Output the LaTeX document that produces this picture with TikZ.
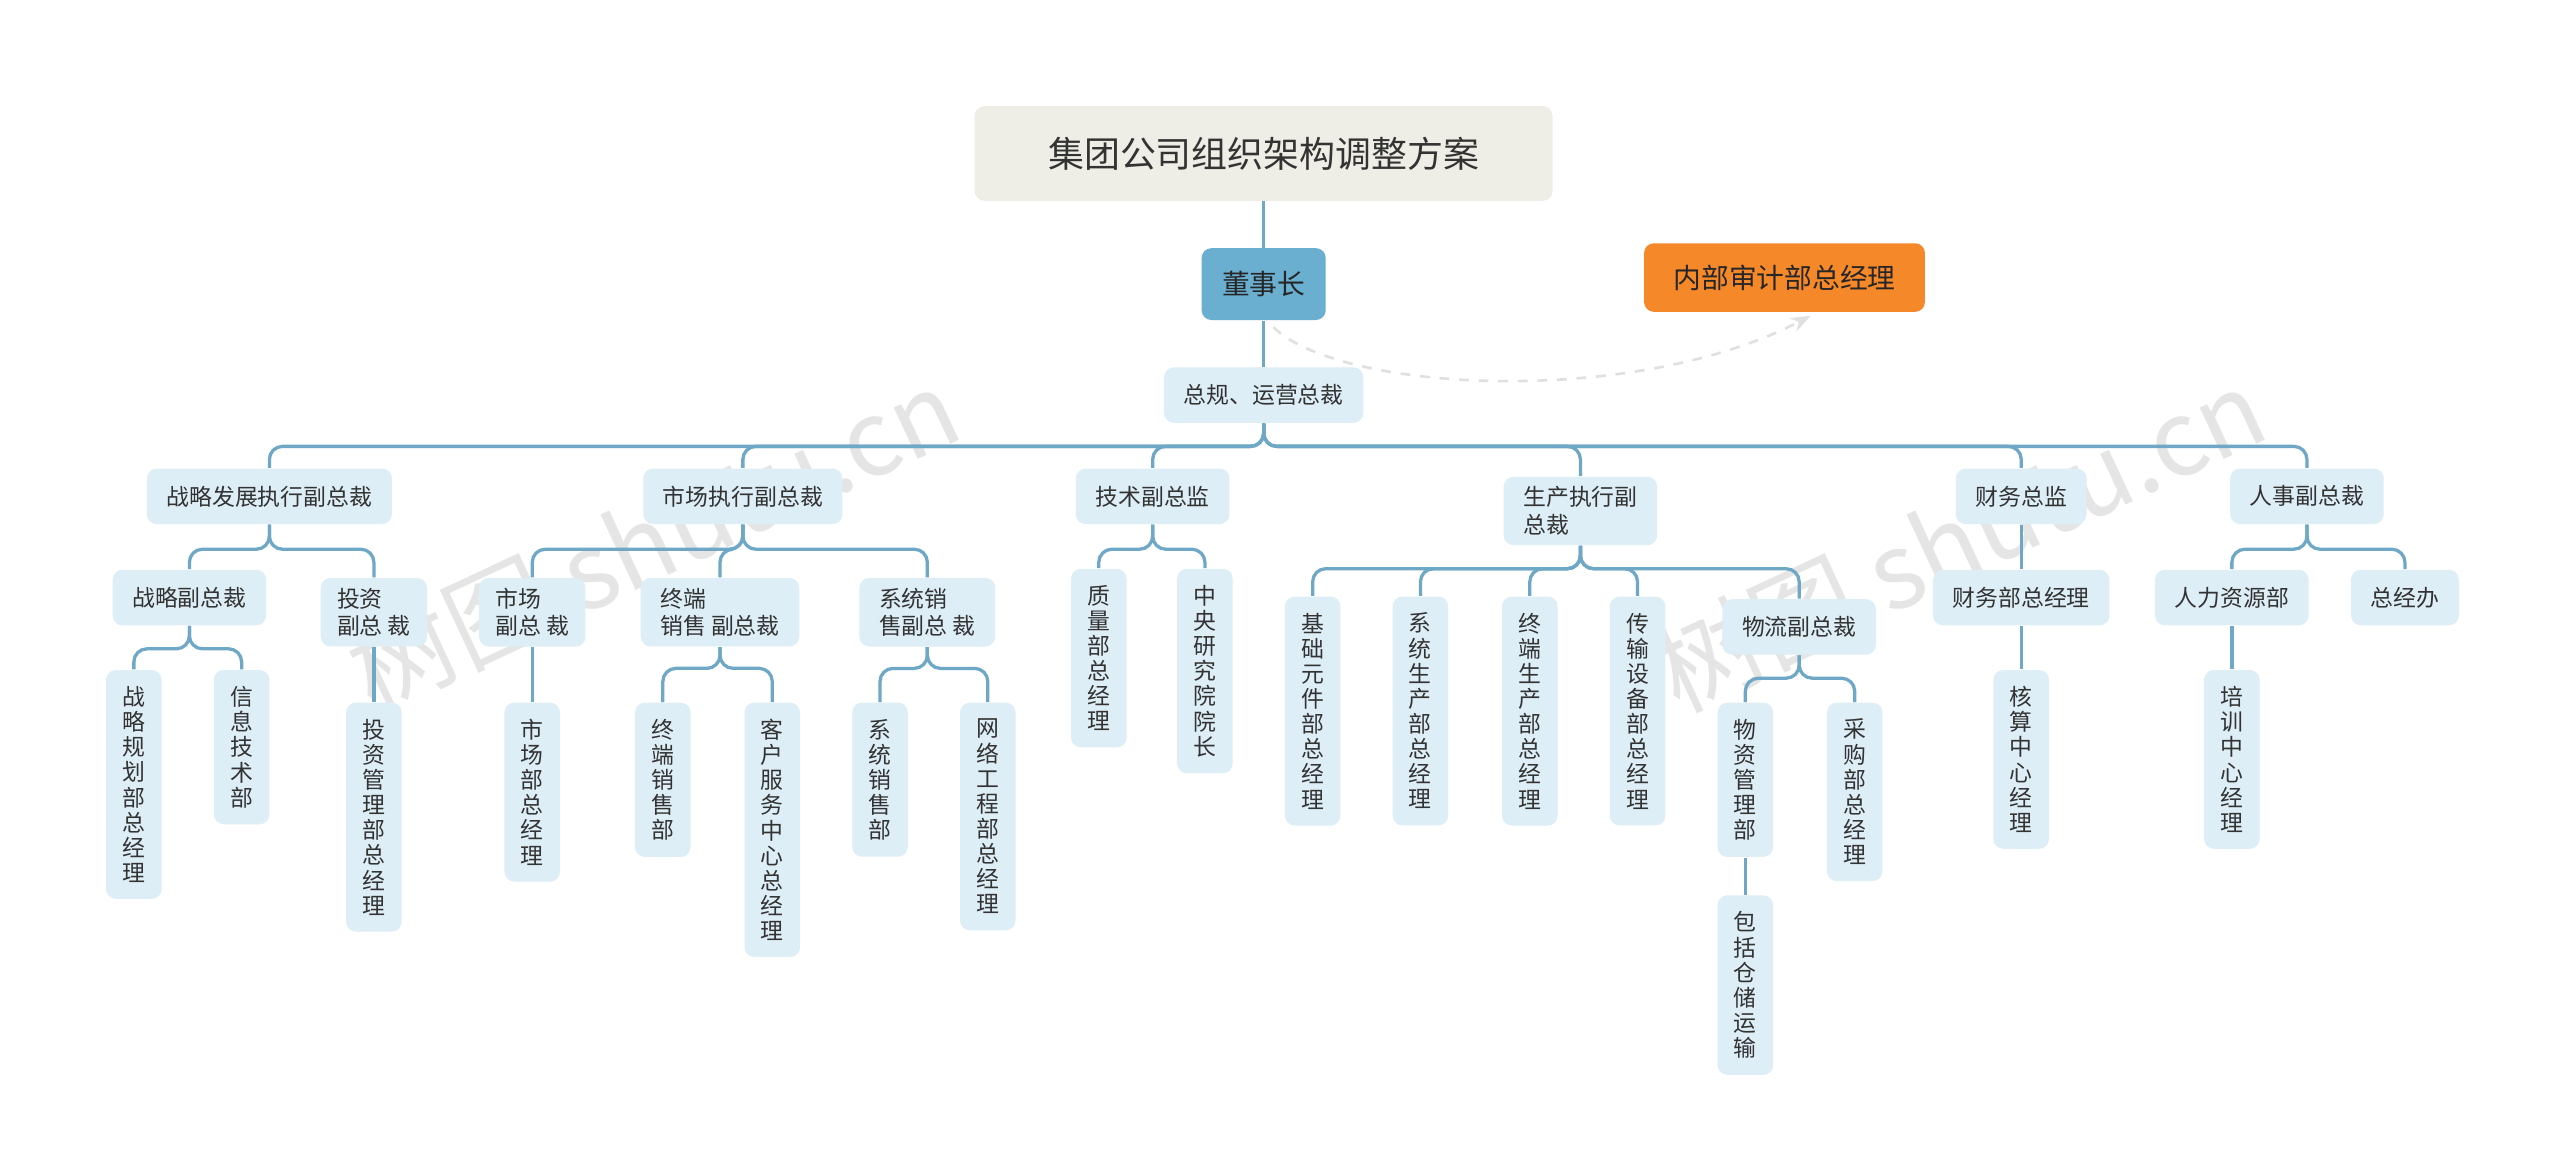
\documentclass[tikz,border=0pt]{standalone}
\usepackage{fontspec}
\newfontfamily\cjk{Noto Sans CJK SC}
\usetikzlibrary{arrows.meta}
\definecolor{lb}{HTML}{DDEEF6}
\definecolor{ln}{HTML}{6FA8C6}
\definecolor{tt}{HTML}{EFEEE6}
\definecolor{bl}{HTML}{6AAED0}
\definecolor{og}{HTML}{F5892A}
\tikzset{
 box/.style={rounded corners=3pt,fill=lb,draw=none,font=\cjk\fontsize{7}{8.5}\selectfont,text=black!80,align=center,inner xsep=6pt,inner ysep=3pt,minimum height=17pt},
 vbox/.style={box,anchor=north,inner xsep=3pt,inner ysep=5pt,minimum width=17pt,font=\cjk\fontsize{7}{7.7}\selectfont},
 conn/.style={draw=ln,line width=1pt,rounded corners=4pt},
}
\newcommand{\br}[3]{\draw[conn] (#1.south) -- ++(0,#2) -| (#3.north);}
\begin{document}
\begin{tikzpicture}[x=0.5pt,y=-0.5pt]
\useasboundingbox (0,0) rectangle (1568,717);
\fill[white] (0,0) rectangle (1568,717);
% watermark
\foreach \p in {(400,330),(1200,330)}{
 \node[rotate=25,text=black!10,font=\cjk\fontsize{32}{32}\selectfont] at \p {树图 shutu.cn};}
% nodes
\node[box,fill=tt,font=\cjk\fontsize{11}{13}\selectfont,minimum width=177pt,minimum height=29pt] (T) at (774,94) {集团公司组织架构调整方案};
\node[box,fill=bl,font=\cjk\fontsize{8.5}{10}\selectfont,minimum width=38pt,minimum height=22pt,text=black!85] (D) at (774,174) {董事长};
\node[box,fill=og,font=\cjk\fontsize{8.5}{10}\selectfont,minimum width=86pt,minimum height=21pt,text=black!85] (S) at (1093,170) {内部审计部总经理};
\node[box] (Z) at (774,242) {总规、运营总裁};
\node[box] (A) at (165,304) {战略发展执行副总裁};
\node[box] (B) at (455,304) {市场执行副总裁};
\node[box] (C) at (706,304) {技术副总监};
\node[box,align=left] (E) at (968,313) {生产执行副\\总裁};
\node[box] (F) at (1238,304) {财务总监};
\node[box] (G) at (1413,304) {人事副总裁};
% level 3
\node[box] (A1) at (116,366) {战略副总裁};
\node[box,align=left,inner xsep=5pt] (A2) at (229,375) {投资\\副总 裁};
\node[vbox] (A11) at (82,410) {战\\略\\规\\划\\部\\总\\经\\理};
\node[vbox] (A12) at (148,410) {信\\息\\技\\术\\部};
\node[vbox] (A21) at (229,430) {投\\资\\管\\理\\部\\总\\经\\理};
\node[box,align=left,inner xsep=5pt] (B1) at (326,375) {市场\\副总 裁};
\node[box,align=left] (B2) at (441,375) {终端\\销售 副总裁};
\node[box,align=left] (B3) at (568,375) {系统销\\售副总 裁};
\node[vbox] (B11) at (326,430) {市\\场\\部\\总\\经\\理};
\node[vbox] (B21) at (406,430) {终\\端\\销\\售\\部};
\node[vbox] (B22) at (473,430) {客\\户\\服\\务\\中\\心\\总\\经\\理};
\node[vbox] (B31) at (539,430) {系\\统\\销\\售\\部};
\node[vbox] (B32) at (605,430) {网\\络\\工\\程\\部\\总\\经\\理};
\node[vbox] (C1) at (673,348) {质\\量\\部\\总\\经\\理};
\node[vbox] (C2) at (738,348) {中\\央\\研\\究\\院\\院\\长};
\node[vbox] (E1) at (804,365) {基\\础\\元\\件\\部\\总\\经\\理};
\node[vbox] (E2) at (870,365) {系\\统\\生\\产\\部\\总\\经\\理};
\node[vbox] (E3) at (937,365) {终\\端\\生\\产\\部\\总\\经\\理};
\node[vbox] (E4) at (1003,365) {传\\输\\设\\备\\部\\总\\经\\理};
\node[box] (E5) at (1102,384) {物流副总裁};
\node[vbox] (E51) at (1069,430) {物\\资\\管\\理\\部};
\node[vbox] (E52) at (1136,430) {采\\购\\部\\总\\经\\理};
\node[vbox] (E511) at (1069,548) {包\\括\\仓\\储\\运\\输};
\node[box] (F1) at (1238,366) {财务部总经理};
\node[vbox] (F11) at (1238,410) {核\\算\\中\\心\\经\\理};
\node[box] (G1) at (1367,366) {人力资源部};
\node[box] (G2) at (1473,366) {总经办};
\node[vbox] (G11) at (1367,410) {培\\训\\中\\心\\经\\理};
\coordinate (DS) at ([xshift=3pt,yshift=-2pt]D.south);
\coordinate (SE) at ([xshift=8pt,yshift=-1pt]S.south);
% connectors
\draw[conn] (T.south) -- (D.north);
\draw[conn] (D.south) -- (Z.north);
\draw[draw=black!12,dashed,line width=0.8pt,-{Stealth[length=6pt]}] (DS) .. controls (820,240) and (1000,250) .. (SE);
\foreach \c in {A,B,C,E,F,G}{\br{Z}{14}{\c}}
\foreach \c in {A1,A2}{\br{A}{15}{\c}}
\foreach \c in {A11,A12}{\br{A1}{14}{\c}}
\br{A2}{10}{A21}
\foreach \c in {B1,B2,B3}{\br{B}{15}{\c}}
\br{B1}{10}{B11}
\foreach \c in {B21,B22}{\br{B2}{13}{\c}}
\foreach \c in {B31,B32}{\br{B3}{13}{\c}}
\foreach \c in {C1,C2}{\br{C}{15}{\c}}
\foreach \c in {E1,E2,E3,E4,E5}{\br{E}{14}{\c}}
\foreach \c in {E51,E52}{\br{E5}{14}{\c}}
\br{E51}{10}{E511}
\br{F}{15}{F1}
\br{F1}{10}{F11}
\foreach \c in {G1,G2}{\br{G}{15}{\c}}
\br{G1}{10}{G11}
\end{tikzpicture}
\end{document}
